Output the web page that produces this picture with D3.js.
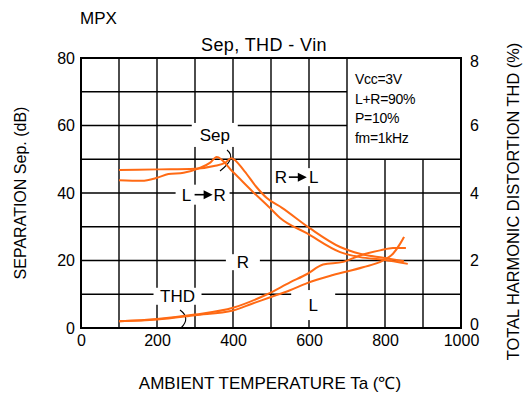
<!DOCTYPE html>
<html>
<head>
<meta charset="utf-8">
<script src="https://cdn.jsdelivr.net/npm/d3@7"></script>
<style>
  body { margin: 0; background: #fff; }
  svg { display: block; font-family: "Liberation Sans", Arial, sans-serif; }
</style>
</head>
<body>
<div id="chart"></div>
<script>
// separation curves (dB), left axis
const sepAx = [100, 160, 200, 230, 270, 310, 340, 357, 400, 450, 497, 524, 594, 682, 734, 795, 860];
const sepAy = [43.8, 43.6, 44.5, 45.6, 46.0, 47.3, 49.0, 50.7, 46.2, 40.6, 35.6, 32.6, 28.1, 22.5, 21.0, 20.2, 19.0];
const sepBx = [100, 200, 300, 350, 380, 395, 430, 460, 489, 529, 603, 682, 734, 795, 850];
const sepBy = [46.8, 47.0, 47.2, 48.0, 49.0, 50.3, 46.5, 42.0, 38.5, 35.6, 29.5, 24.0, 22.0, 20.8, 19.8];

// THD curves (%), right axis
const thd1x = [100, 200, 300, 400, 490, 550, 595, 637, 690, 734, 787, 821, 855];
const thd1y = [0.20, 0.27, 0.40, 0.60, 1.00, 1.35, 1.60, 1.88, 1.96, 2.15, 2.30, 2.37, 2.37];
const thd2x = [100, 200, 300, 400, 450, 500, 550, 595, 663, 742, 795, 821, 840, 850];
const thd2y = [0.20, 0.25, 0.38, 0.52, 0.72, 0.92, 1.12, 1.33, 1.57, 1.80, 2.00, 2.20, 2.50, 2.70];

const xTicks = [0, 200, 400, 600, 800, 1000];
const sepTicks = [0, 20, 40, 60, 80];
const thdTicks = [0, 2, 4, 6, 8];
const conditions = ["Vcc=3V", "L+R=90%", "P=10%", "fm=1kHz"];

const width = 528, height = 396;
const orange = "#ff6a14";

const svg = d3.select("#chart").append("svg")
  .attr("width", width).attr("height", height);

const x = d3.scaleLinear().domain([0, 1000]).range([81, 461]);
const yL = d3.scaleLinear().domain([0, 80]).range([328, 58]);
const yR = d3.scaleLinear().domain([0, 8]).range([328, 58]);

// grid
const grid = svg.append("g").attr("stroke", "#000").attr("stroke-width", 1.4);
d3.range(100, 1000, 100).forEach(t => {
  const top = t > 700 ? 50 : 80; // legend box hides the upper part
  grid.append("line")
    .attr("x1", x(t)).attr("x2", x(t))
    .attr("y1", yL(0)).attr("y2", yL(top));
});
d3.range(10, 80, 10).forEach(v => {
  const right = v > 50 ? 700 : 1000;
  grid.append("line")
    .attr("x1", x(0)).attr("x2", x(right))
    .attr("y1", yL(v)).attr("y2", yL(v));
});
svg.append("rect")
  .attr("x", x(0)).attr("y", yL(80))
  .attr("width", x(1000) - x(0)).attr("height", yL(0) - yL(80))
  .attr("fill", "none").attr("stroke", "#000").attr("stroke-width", 2);

// axes (labels only)
const axB = svg.append("g").attr("transform", `translate(0,${yL(0)})`)
  .call(d3.axisBottom(x).tickValues(xTicks).tickFormat(d3.format("d")).tickSize(0).tickPadding(7));
const axL = svg.append("g").attr("transform", `translate(${x(0)},0)`)
  .call(d3.axisLeft(yL).tickValues(sepTicks).tickSize(0).tickPadding(6));
const axR = svg.append("g").attr("transform", `translate(${x(1000)},0)`)
  .call(d3.axisRight(yR).tickValues(thdTicks).tickSize(0).tickPadding(9));
[axB, axL, axR].forEach(a => {
  a.select(".domain").remove();
  a.selectAll("text").attr("font-size", 16).attr("fill", "#000")
    .attr("font-family", "Liberation Sans, Arial, sans-serif");
});
axR.selectAll(".tick text").attr("dy", d => d === 8 ? "0.55em" : d === 0 ? "0.1em" : "0.32em");

// annotation labels with white boxes
const ann = svg.append("g").attr("font-size", 17);
function label(cx, cy, w, h, parts) {
  ann.append("rect")
    .attr("x", cx - w / 2).attr("y", cy - h / 2)
    .attr("width", w).attr("height", h).attr("fill", "#fff");
  if (parts.length === 1) {
    ann.append("text").attr("x", cx).attr("y", cy).attr("dy", "0.36em")
      .attr("text-anchor", "middle").text(parts[0]);
  } else {
    ann.append("text").attr("x", cx - 16).attr("y", cy).attr("dy", "0.36em")
      .attr("text-anchor", "middle").text(parts[0]);
    ann.append("text").attr("x", cx + 17).attr("y", cy).attr("dy", "0.36em")
      .attr("text-anchor", "middle").text(parts[1]);
    ann.append("line").attr("x1", cx - 8).attr("x2", cx + 3)
      .attr("y1", cy).attr("y2", cy).attr("stroke", "#000").attr("stroke-width", 1.6);
    ann.append("path")
      .attr("d", `M${cx + 1},${cy - 4.5}L${cx + 10},${cy}L${cx + 1},${cy + 4.5}Z`)
      .attr("fill", "#000");
  }
}
label(x(352), yL(57.2), 46, 24, ["Sep"]);
label(x(320), yL(39.5), 54, 20, ["L", "R"]);
label(x(568), yL(44.7), 48, 18, ["R", "L"]);
label(x(426), yL(19.5), 34, 16, ["R"]);
label(x(254), yL(9.4), 48, 17, ["THD"]);
label(x(611), yL(6.8), 44, 30, ["L"]);

// brackets marking curve pairs
svg.append("path").attr("d", "M227,150 Q237,158 220,171")
  .attr("fill", "none").attr("stroke", "#000").attr("stroke-width", 1.1);
svg.append("path").attr("d", "M180,310 Q191,318 181,328")
  .attr("fill", "none").attr("stroke", "#000").attr("stroke-width", 1.1);

// curves
const line = (xs, ys, yScale) => d3.line()
  .x((d, i) => x(xs[i]))
  .y(d => yScale(d))
  .curve(d3.curveMonotoneX)(ys);
const curves = svg.append("g").attr("fill", "none")
  .attr("stroke", orange).attr("stroke-width", 2);
curves.append("path").attr("d", line(sepAx, sepAy, yL));
curves.append("path").attr("d", line(sepBx, sepBy, yL));
curves.append("path").attr("d", line(thd1x, thd1y, yR));
curves.append("path").attr("d", line(thd2x, thd2y, yR));

// condition text in the legend box
svg.append("g").attr("font-size", 14)
  .selectAll("text").data(conditions).join("text")
  .attr("x", 355).attr("y", (d, i) => 79 + i * 19.5).attr("dy", "0.36em")
  .attr("letter-spacing", -0.3)
  .text(d => d);

// titles
svg.append("text").attr("x", 80).attr("y", 24).attr("font-size", 17).text("MPX");
svg.append("text").attr("x", 264).attr("y", 45).attr("dy", "0.36em")
  .attr("text-anchor", "middle").attr("font-size", 18).attr("letter-spacing", 0.4)
  .text("Sep, THD - Vin");
svg.append("text").attr("x", 270).attr("y", 383).attr("dy", "0.36em")
  .attr("text-anchor", "middle").attr("font-size", 17)
  .text("AMBIENT TEMPERATURE Ta (\u2103)");
svg.append("text")
  .attr("transform", `translate(26,${yL(40)}) rotate(-90)`)
  .attr("text-anchor", "middle").attr("font-size", 16)
  .text("SEPARATION Sep. (dB)");
svg.append("text")
  .attr("transform", `translate(519,${(41 + 362) / 2}) rotate(-90)`)
  .attr("text-anchor", "middle").attr("font-size", 16.4)
  .text("TOTAL HARMONIC DISTORTION THD (%)");
</script>
</body>
</html>
